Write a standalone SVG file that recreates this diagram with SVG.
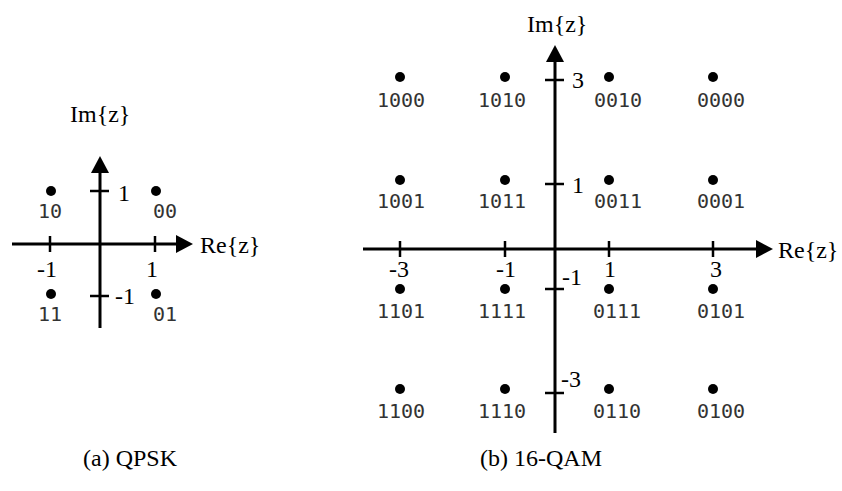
<svg xmlns="http://www.w3.org/2000/svg" width="842" height="491" viewBox="0 0 842 491">
<style>
.ax{stroke:#000;stroke-width:3;fill:none}
.tk{stroke:#000;stroke-width:2.5;fill:none}
.dot{fill:#000}
.bits{font-family:"DejaVu Sans Mono","Liberation Mono",monospace;font-size:20px;fill:#333}
.lab{font-family:"Liberation Serif","Times New Roman",serif;font-size:24px;fill:#000}
.cap{font-family:"Liberation Serif","Times New Roman",serif;font-size:24px;fill:#000}
</style>
<defs>
<marker id="arr" markerUnits="userSpaceOnUse" markerWidth="18" markerHeight="20" refX="0" refY="10" orient="auto" overflow="visible">
<path d="M0,1 L17,10 L0,19 Z" fill="#000"/>
</marker>
</defs>
<rect width="842" height="491" fill="#fff"/>

<g id="connectors">
<g id="qpsk-axes">
<line class="ax" x1="12" y1="244" x2="176" y2="244" marker-end="url(#arr)"/>
<line class="ax" x1="100" y1="328" x2="100" y2="173" marker-end="url(#arr)"/>
<line class="tk" x1="50" y1="236" x2="50" y2="252"/>
<line class="tk" x1="155" y1="236" x2="155" y2="252"/>
<line class="tk" x1="90" y1="191" x2="109" y2="191"/>
<line class="tk" x1="90" y1="296" x2="109" y2="296"/>
</g>
<g id="qam-axes">
<line class="ax" x1="363" y1="249" x2="756" y2="249" marker-end="url(#arr)"/>
<line class="ax" x1="555" y1="433" x2="555" y2="62" marker-end="url(#arr)"/>
<line class="tk" x1="400" y1="241" x2="400" y2="257"/>
<line class="tk" x1="505" y1="241" x2="505" y2="257"/>
<line class="tk" x1="609" y1="241" x2="609" y2="257"/>
<line class="tk" x1="713" y1="241" x2="713" y2="257"/>
<line class="tk" x1="545" y1="80" x2="564" y2="80"/>
<line class="tk" x1="545" y1="184" x2="564" y2="184"/>
<line class="tk" x1="545" y1="289" x2="564" y2="289"/>
<line class="tk" x1="545" y1="393" x2="564" y2="393"/>
</g>
</g>

<g id="qpsk-labels">
<text class="lab" x="70" y="122">Im{z}</text>
<text class="lab" x="200" y="253">Re{z}</text>
<text class="lab" x="118" y="201">1</text>
<text class="lab" x="115" y="304">-1</text>
<text class="lab" x="47" y="277" text-anchor="middle">-1</text>
<text class="lab" x="152" y="277" text-anchor="middle">1</text>
</g>
<g id="q-10"><circle class="dot" cx="51" cy="191" r="5"/><text class="bits" x="38" y="218">10</text></g>
<g id="q-00"><circle class="dot" cx="156" cy="191" r="5"/><text class="bits" x="153" y="218">00</text></g>
<g id="q-11"><circle class="dot" cx="51" cy="294" r="5"/><text class="bits" x="38" y="321">11</text></g>
<g id="q-01"><circle class="dot" cx="156" cy="294" r="5"/><text class="bits" x="153" y="321">01</text></g>

<g id="qam-labels">
<text class="lab" x="527" y="32">Im{z}</text>
<text class="lab" x="778" y="258">Re{z}</text>
<text class="lab" x="572" y="88">3</text>
<text class="lab" x="572" y="193">1</text>
<text class="lab" x="562" y="285">-1</text>
<text class="lab" x="561" y="387">-3</text>
<text class="lab" x="399" y="277" text-anchor="middle">-3</text>
<text class="lab" x="506" y="277" text-anchor="middle">-1</text>
<text class="lab" x="610" y="277" text-anchor="middle">1</text>
<text class="lab" x="716" y="277" text-anchor="middle">3</text>
</g>
<g id="s-1000"><circle class="dot" cx="400" cy="77" r="5"/><text class="bits" x="377" y="107">1000</text></g>
<g id="s-1010"><circle class="dot" cx="505" cy="77" r="5"/><text class="bits" x="478" y="107">1010</text></g>
<g id="s-0010"><circle class="dot" cx="609" cy="77" r="5"/><text class="bits" x="594" y="107">0010</text></g>
<g id="s-0000"><circle class="dot" cx="713" cy="77" r="5"/><text class="bits" x="697" y="107">0000</text></g>
<g id="s-1001"><circle class="dot" cx="400" cy="180" r="5"/><text class="bits" x="377" y="208">1001</text></g>
<g id="s-1011"><circle class="dot" cx="505" cy="180" r="5"/><text class="bits" x="478" y="208">1011</text></g>
<g id="s-0011"><circle class="dot" cx="609" cy="180" r="5"/><text class="bits" x="594" y="208">0011</text></g>
<g id="s-0001"><circle class="dot" cx="713" cy="180" r="5"/><text class="bits" x="697" y="208">0001</text></g>
<g id="s-1101"><circle class="dot" cx="400" cy="289" r="5"/><text class="bits" x="377" y="318">1101</text></g>
<g id="s-1111"><circle class="dot" cx="505" cy="289" r="5"/><text class="bits" x="478" y="318">1111</text></g>
<g id="s-0111"><circle class="dot" cx="609" cy="289" r="5"/><text class="bits" x="593" y="318">0111</text></g>
<g id="s-0101"><circle class="dot" cx="713" cy="289" r="5"/><text class="bits" x="697" y="318">0101</text></g>
<g id="s-1100"><circle class="dot" cx="400" cy="389" r="5"/><text class="bits" x="377" y="418">1100</text></g>
<g id="s-1110"><circle class="dot" cx="505" cy="389" r="5"/><text class="bits" x="478" y="418">1110</text></g>
<g id="s-0110"><circle class="dot" cx="609" cy="389" r="5"/><text class="bits" x="593" y="418">0110</text></g>
<g id="s-0100"><circle class="dot" cx="713" cy="389" r="5"/><text class="bits" x="697" y="418">0100</text></g>

<g id="captions">
<text class="cap" x="83" y="466">(a) QPSK</text>
<text class="cap" x="480" y="466">(b) 16-QAM</text>
</g>
</svg>
